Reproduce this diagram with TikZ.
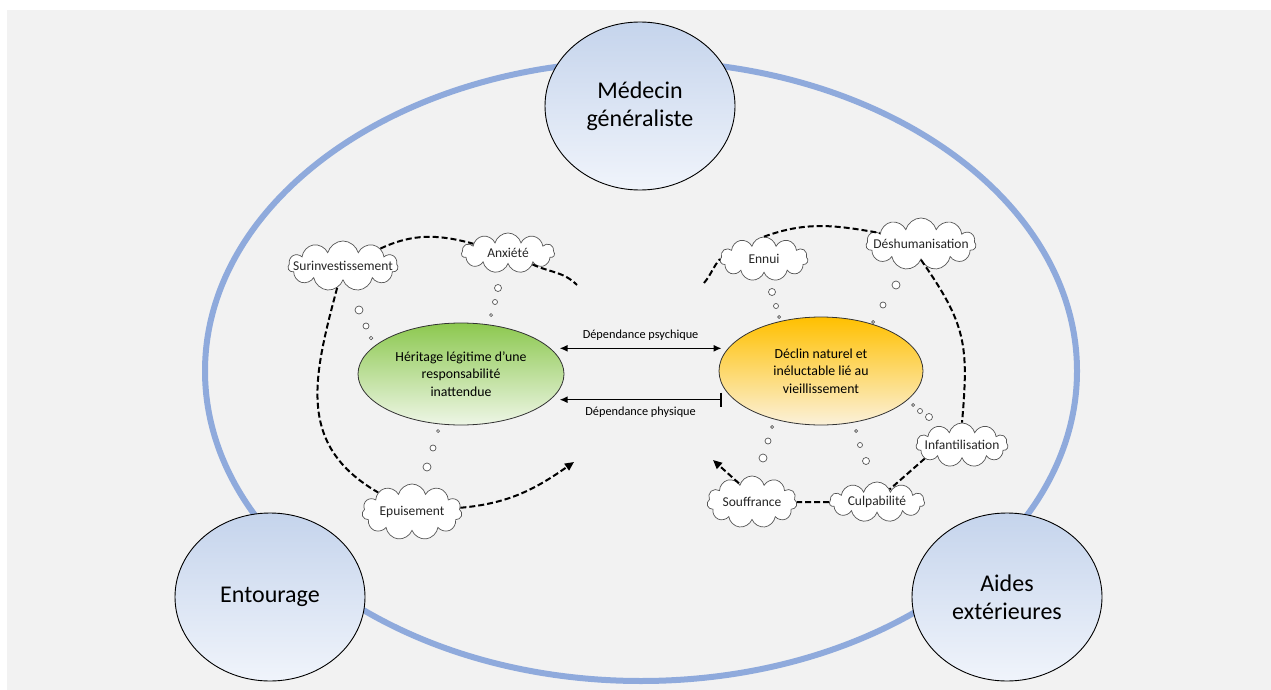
\documentclass[tikz,border=0pt]{standalone}
\usepackage{fontspec}
\setmainfont{Carlito}
\usetikzlibrary{shapes.symbols,shapes.geometric,arrows.meta,calc}
\definecolor{bggrey}{HTML}{F2F2F2}
\definecolor{ringblue}{HTML}{8FAADC}
\definecolor{circtop}{HTML}{C5D4EC}
\definecolor{circbot}{HTML}{F0F4FB}
\definecolor{greentop}{HTML}{8CC84F}
\definecolor{greenbot}{HTML}{EEF6E6}
\definecolor{orangetop}{HTML}{FFC000}
\definecolor{orangebot}{HTML}{FBF1DA}
\definecolor{cloudline}{HTML}{555555}
\newcommand{\cltext}[1]{\makebox[0pt][c]{#1}}
\begin{document}
\begin{tikzpicture}[x=1pt,y=1pt,
  cloudbox/.style={cloud, cloud puffs=11, cloud ignores aspect, draw=cloudline, fill=white,
    line width=0.7pt, inner sep=0pt, font=\fontsize{13.5}{14}\selectfont, text=black!85},
  bubble/.style={circle, draw=cloudline, fill=white, line width=0.7pt, inner sep=0pt},
  loopline/.style={line width=2pt, dash pattern=on 6pt off 3pt, black},
  looparrow/.style={loopline, -{Triangle[length=9pt,width=8pt]}},
  bigcircle/.style={ellipse, draw=black, line width=0.9pt, top color=circtop, bottom color=circbot,
    minimum width=190pt, minimum height=168pt, inner sep=0pt, align=center,
    font=\fontsize{24}{28}\selectfont},
  mainell/.style={ellipse, draw=black!80, line width=0.8pt, inner sep=0pt, align=center,
    font=\fontsize{13.8}{17.5}\selectfont},
  deparrow/.style={line width=1.5pt, black},
  deplabel/.style={font=\fontsize{12.3}{13}\selectfont}
]
\useasboundingbox (0,0) rectangle (1271,-690);
\fill[bggrey] (7,-10) rectangle (1271,-690);
\draw[ringblue, line width=6pt] (641,-371) ellipse [x radius=436, y radius=310];

% big circles
\node[bigcircle] (medecin) at (640,-106) {Médecin\\généraliste};
\node[bigcircle] (entourage) at (270,-597) {Entourage};
\node[bigcircle] (aides) at (1007,-597) {Aides\\extérieures};

% central ellipses
\node[mainell, top color=greentop, bottom color=greenbot, minimum width=206pt, minimum height=102pt]
  (heritage) at (461,-374) {Héritage légitime d’une\\responsabilité\\inattendue};
\node[mainell, top color=orangetop, bottom color=orangebot, minimum width=204pt, minimum height=108pt]
  (declin) at (821,-371) {Déclin naturel et\\inéluctable lié au\\vieillissement};

% dependance arrows
\draw[deparrow, {Latex[length=8pt,width=7pt]}-{Latex[length=8pt,width=7pt]}]
  ([xshift=9pt]heritage.16) -- ([xshift=3pt]heritage.16 -| declin.west)
  node[deplabel, midway, above=4pt] (psy) {Dépendance psychique};
\draw[deparrow, {Latex[length=8pt,width=7pt]}-{Bar[width=14pt]}]
  ([xshift=9pt]heritage.-16) -- ([xshift=3pt]heritage.-16 -| declin.west)
  node[deplabel, midway, below=3pt] (phy) {Dépendance physique};

% clouds left
\node[cloudbox, minimum width=110pt, minimum height=50pt] (suri) at (343,-266) {\cltext{Surinvestissement}};
\node[cloudbox, minimum width=93pt, minimum height=40pt] (anx) at (508,-253) {\cltext{Anxiété}};
\node[cloudbox, minimum width=100pt, minimum height=56pt] (epu) at (412,-512) {\cltext{Epuisement}};
% clouds right
\node[cloudbox, minimum width=88pt, minimum height=44pt] (ennui) at (764,-259) {\cltext{Ennui}};
\node[cloudbox, minimum width=110pt, minimum height=52pt] (desh) at (921,-244) {\cltext{Déshumanisation}};
\node[cloudbox, minimum width=92pt, minimum height=44pt] (infant) at (962,-445) {\cltext{Infantilisation}};
\node[cloudbox, minimum width=95pt, minimum height=40pt] (culp) at (877,-502) {\cltext{Culpabilité}};
\node[cloudbox, minimum width=90pt, minimum height=52pt] (souf) at (752,-502) {\cltext{Souffrance}};

% free ends
\coordinate (freeL) at (577,-285);
\coordinate (arrowL) at (574,-462);
\coordinate (freeR) at (704,-283);
\coordinate (arrowR) at (713,-460);

% left loop
\draw[loopline] (suri) to[out=25,in=165] (anx);
\draw[loopline] (anx) to[out=-25,in=135] (freeL);
\draw[loopline] (suri) to[out=-105,in=150,looseness=1.15] (epu);
\draw[looparrow] (epu) to[out=5,in=-145] (arrowL);
% right loop
\draw[loopline] (freeR) to[out=50,in=230] (ennui.west);
\draw[loopline] (ennui.north) to[out=20,in=170] (desh.165);
\draw[loopline] (desh.south) to[out=-55,in=85,looseness=1.2] (infant.north);
\draw[loopline] (infant.200) -- (culp.45);
\draw[loopline] (culp.west) -- (souf.east);
\draw[looparrow] (souf.125) -- (arrowR);

% thought bubbles
\node[bubble, minimum size=8pt] (b1) at (359,-310) {};
\node[bubble, minimum size=6pt] (b2) at (366,-326) {};
\node[bubble, minimum size=3.5pt] (b3) at (371,-338) {};
\node[bubble, minimum size=7pt] (b4) at (498,-288) {};
\node[bubble, minimum size=5pt] (b5) at (495,-302) {};
\node[bubble, minimum size=3pt] (b6) at (491,-315) {};
\node[bubble, minimum size=3pt] (b7) at (438,-431) {};
\node[bubble, minimum size=6pt] (b8) at (433,-448) {};
\node[bubble, minimum size=8pt] (b9) at (427,-467) {};
\node[bubble, minimum size=7pt] (b10) at (772,-292) {};
\node[bubble, minimum size=5pt] (b11) at (776,-306) {};
\node[bubble, minimum size=3pt] (b12) at (779,-317) {};
\node[bubble, minimum size=8pt] (b13) at (896,-285) {};
\node[bubble, minimum size=6pt] (b14) at (883,-305) {};
\node[bubble, minimum size=3pt] (b15) at (873,-322) {};
\node[bubble, minimum size=3pt] (b16) at (913,-405) {};
\node[bubble, minimum size=5pt] (b17) at (920,-411) {};
\node[bubble, minimum size=7pt] (b18) at (929,-417) {};
\node[bubble, minimum size=3pt] (b19) at (856,-431) {};
\node[bubble, minimum size=5pt] (b20) at (860,-445) {};
\node[bubble, minimum size=7pt] (b21) at (866,-461) {};
\node[bubble, minimum size=3pt] (b22) at (772,-427) {};
\node[bubble, minimum size=6pt] (b23) at (768,-441) {};
\node[bubble, minimum size=8pt] (b24) at (763,-458) {};
\end{tikzpicture}
\end{document}
